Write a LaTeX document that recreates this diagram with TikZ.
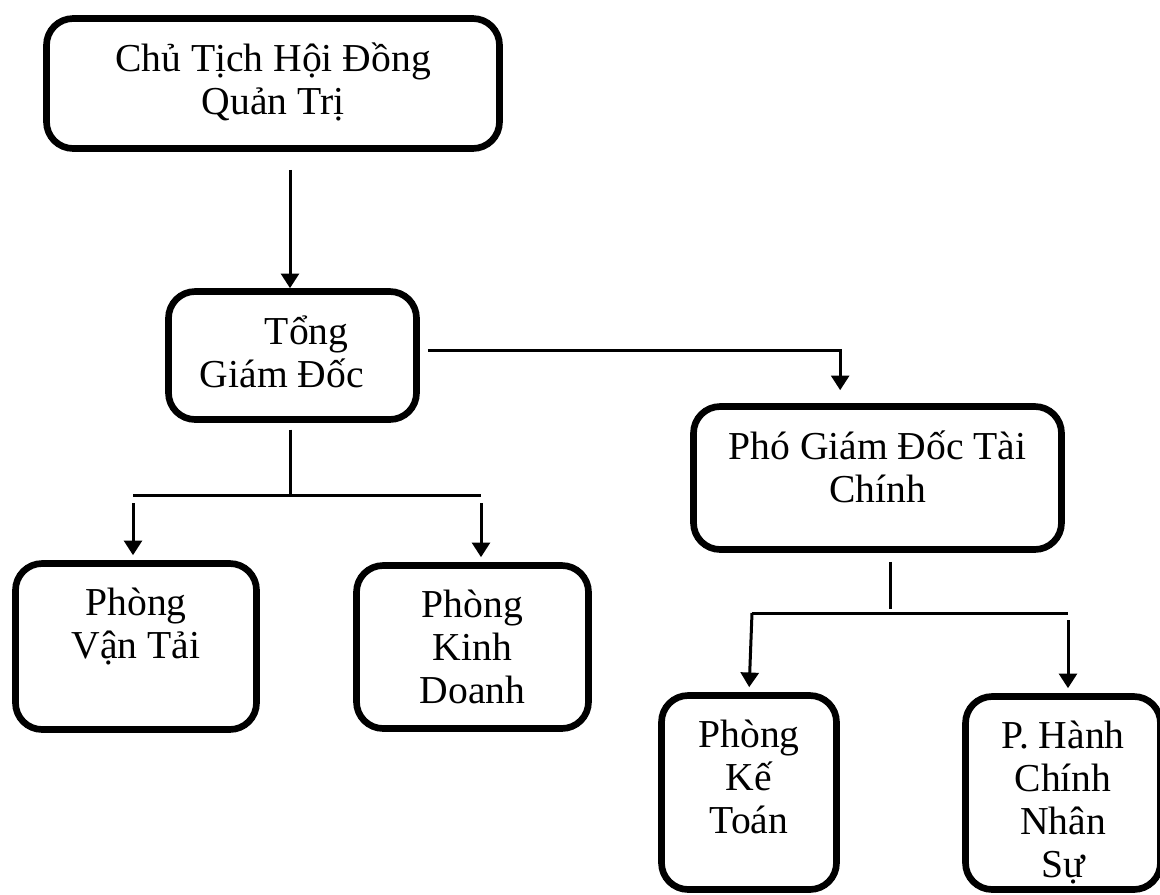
\documentclass[tikz,border=0pt]{standalone}
\usepackage{fontspec}
\setmainfont{Liberation Serif}
\usetikzlibrary{arrows.meta}

\begin{document}
\begin{tikzpicture}[x=0.75pt,y=-0.75pt,
    box/.style={draw, line width=5pt, rounded corners=20pt, inner sep=0pt},
    txt/.style={anchor=north, yshift=-20.5pt, align=center, inner sep=0pt,
        font=\fontsize{29.7}{32.25}\selectfont},
    link/.style={line width=2.25pt},
    arr/.style={link, -{Triangle[width=13.5pt,length=11pt]}}]
    \useasboundingbox (0,0) rectangle (1160,894);
    \clip (0,0) rectangle (1160,894);
    \node[box, minimum width=339.75pt, minimum height=97.5pt,
        label={[txt]north:{Chủ Tịch Hội Đồng\\Quản Trị}}] (chu) at (273,83.5) {};
    \node[box, minimum width=186pt, minimum height=96pt,
        label={[txt, align=left]north:{\hspace*{48.75pt}Tổng\\Giám Đốc\hspace*{16pt}}}] (tgd) at (292.5,355.5) {};
    \node[box, minimum width=276pt, minimum height=107.25pt,
        label={[txt]north:{Phó Giám Đốc Tài\\Chính}}] (pgd) at (877.5,478) {};
    \node[box, minimum width=180.75pt, minimum height=124.5pt,
        label={[txt]north:{Phòng\\Vận Tải}}] (vt) at (136,646.5) {};
    \node[box, minimum width=174pt, minimum height=122.25pt,
        label={[txt]north:{Phòng\\Kinh\\Doanh}}] (kd) at (472.5,647) {};
    \node[box, minimum width=131.25pt, minimum height=145.5pt,
        label={[txt]north:{Phòng\\Kế\\Toán}}] (kt) at (749,792.5) {};
    \node[box, minimum width=146.25pt, minimum height=144.75pt,
        label={[txt]north:{P. Hành\\Chính\\Nhân\\Sự}}] (hc) at (1063,793) {};

    \coordinate (tgdj) at (290,495);
    \coordinate (vtj) at (133,495);
    \coordinate (kdj) at (481,495);
    \coordinate (pgdj) at (890,613);
    \coordinate (ktj) at (752,613);
    \coordinate (hcj) at (1068,613);

    \draw[arr, shorten <=13.5pt] (chu.south -| tgdj) -- (tgdj |- tgd.north);
    \draw[arr, shorten <=6pt, shorten >=9.75pt] ([yshift=4pt]tgd.east) -| ([xshift=-28pt]pgd.north);
    \draw[link, shorten <=5pt] (tgd.south -| tgdj) -- (tgdj);
    \draw[link] (vtj) -- (kdj);
    \draw[arr, shorten <=6pt, shorten >=3.75pt] (vtj) -- (vtj |- vt.north);
    \draw[arr, shorten <=6pt, shorten >=3.75pt] (kdj) -- (kdj |- kd.north);
    \draw[link, shorten <=6.75pt, shorten >=3pt] (pgd.south -| pgdj) -- (pgdj);
    \draw[link] (ktj) -- (hcj);
    \draw[arr, shorten >=3.75pt] (ktj) -- (kt.north);
    \draw[arr, shorten <=5.25pt, shorten >=3.75pt] (hcj) -- (hcj |- hc.north);
\end{tikzpicture}
\end{document}
